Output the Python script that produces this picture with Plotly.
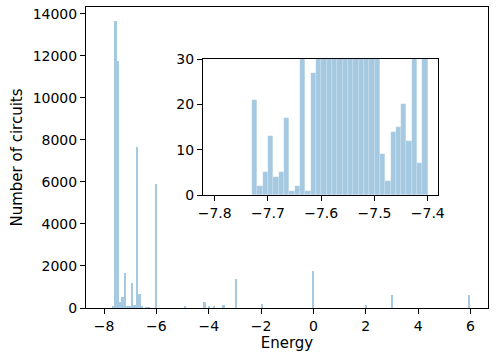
import plotly.graph_objects as go

# main histogram: 150 bins between -7.8 and 6.0, only non-empty bins listed
bin_start = -7.8
bin_width = 0.092
bin_index = [1, 2, 3, 4, 5, 6, 7, 8, 9, 10, 11, 12, 13, 15, 16, 19,
             31, 39, 41, 43, 47, 52, 63, 84, 106, 117, 149]
bin_count = [60, 13640, 11730, 290, 530, 1670, 80, 110, 1210, 130, 7670, 690, 50, 30, 30, 5880,
             100, 300, 50, 50, 130, 1380, 190, 1750, 140, 600, 640]

# zoomed view of the low-energy end, bins of 0.01 starting at -7.73
zoom_start = -7.73
zoom_width = 0.01
zoom_count = [21, 2, 5, 13, 4, 5, 17, 1, 2, 45, 1, 27,
              1400, 1500, 1500, 1600, 1500, 1500, 1400, 1600, 1500, 3900, 3900, 3800,
              9, 3, 14, 15, 20, 12, 110, 7, 150]

bar_color = "#a5c9e1"

main_x = [bin_start + (i + 0.5) * bin_width for i in bin_index]
zoom_x = [zoom_start + (k + 0.5) * zoom_width for k in range(len(zoom_count))]

fig = go.Figure()
fig.add_trace(go.Bar(x=main_x, y=bin_count, width=bin_width,
                     marker=dict(color=bar_color, line=dict(width=0)),
                     xaxis="x", yaxis="y", showlegend=False))
fig.add_trace(go.Bar(x=zoom_x, y=zoom_count, width=zoom_width,
                     marker=dict(color=bar_color, line=dict(width=0.4, color="rgba(255,255,255,0.35)")),
                     xaxis="x2", yaxis="y2", showlegend=False))

axis_common = dict(showline=True, linecolor="black", linewidth=1, mirror=True,
                   ticks="outside", ticklen=5, tickwidth=1, tickcolor="black",
                   showgrid=False, zeroline=False, automargin=False,
                   tickfont=dict(family="DejaVu Sans", size=14, color="black"))

fig.update_layout(
    width=498, height=360,
    margin=dict(l=86, r=10, t=7, b=52),
    paper_bgcolor="white", plot_bgcolor="white",
    bargap=0,
    font=dict(family="DejaVu Sans", color="black"),
    xaxis=dict(axis_common, range=[-8.69, 6.67], tickmode="linear", tick0=-8, dtick=2,
               title=dict(text="Energy", font=dict(size=15), standoff=4)),
    yaxis=dict(axis_common, range=[0, 14322], tickmode="linear", tick0=0, dtick=2000,
               tickformat="d",
               title=dict(text="Number of circuits", font=dict(size=15), standoff=6)),
    xaxis2=dict(axis_common, domain=[0.291, 0.876], anchor="y2",
                range=[-7.822, -7.3805], tickmode="linear", tick0=-7.8, dtick=0.1,
                tickformat=".1f"),
    yaxis2=dict(axis_common, domain=[0.375, 0.827], anchor="x2",
                range=[0, 30], tickmode="linear", tick0=0, dtick=10),
)

# page body has a default 8px margin; drop it so the figure sits at the window corner
fig.write_html("out.html", config={"displayModeBar": False},
               post_script="document.body.style.margin='0';")
